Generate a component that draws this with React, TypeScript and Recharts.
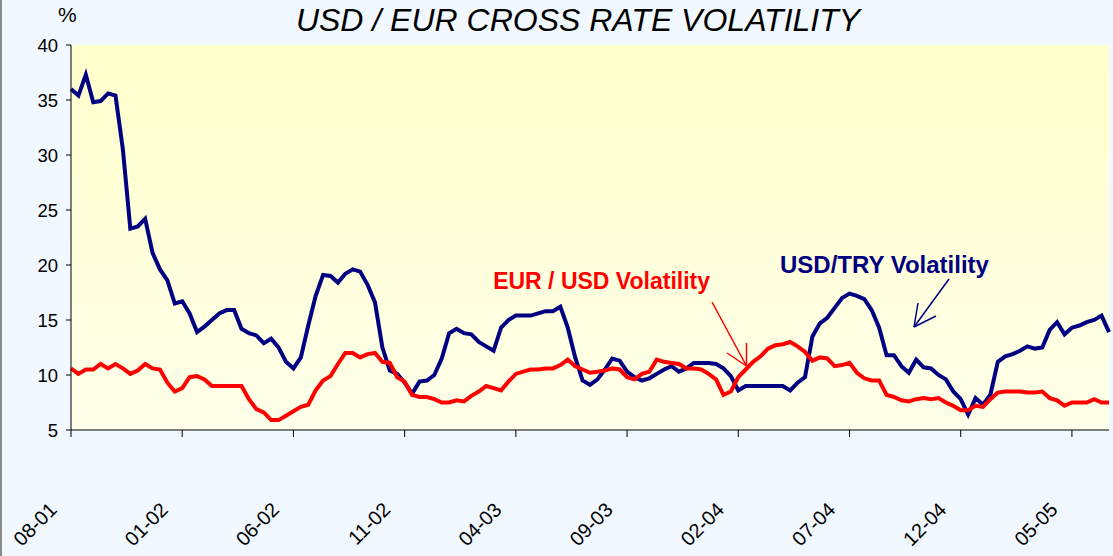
import React from "react"
import { LineChart, Line, XAxis, YAxis, CartesianGrid } from "recharts"

// month labels on the x axis, one every 15 samples (3 samples per month)
const tickLabels = ["08-01", "01-02", "06-02", "11-02", "04-03", "09-03", "02-04", "07-04", "12-04", "05-05"]
const yTicks = [5, 10, 15, 20, 25, 30, 35, 40]

// USD/TRY volatility, %
const usdTry = [
  36, 35.4, 37.3, 34.8, 34.9, 35.6, 35.4, 30.5, 23.3, 23.5,
  24.2, 21.1, 19.6, 18.6, 16.5, 16.7, 15.6, 13.9, 14.4, 15.0,
  15.6, 15.9, 15.9, 14.2, 13.8, 13.6, 12.9, 13.3, 12.5, 11.2,
  10.6, 11.6, 14.5, 17.2, 19.1, 19.0, 18.4, 19.2, 19.6, 19.4,
  18.2, 16.6, 12.5, 10.4, 10.1, 9.3, 8.3, 9.4, 9.5, 10.0,
  11.5, 13.8, 14.2, 13.8, 13.7, 13.0, 12.6, 12.2, 14.3, 15.0,
  15.4, 15.4, 15.4, 15.6, 15.8, 15.8, 16.2, 14.3, 11.6, 9.5,
  9.1, 9.6, 10.5, 11.5, 11.3, 10.3, 9.8, 9.5, 9.7, 10.1,
  10.5, 10.8, 10.3, 10.6, 11.1, 11.1, 11.1, 11.0, 10.6, 9.9,
  8.6, 9.0, 9.0, 9.0, 9.0, 9.0, 9.0, 8.6, 9.3, 9.8,
  13.5, 14.7, 15.2, 16.1, 17.0, 17.4, 17.2, 16.9, 15.9, 14.3,
  11.8, 11.8, 10.8, 10.2, 11.4, 10.7, 10.6, 10.0, 9.6, 8.5,
  7.8, 6.4, 7.9, 7.3, 8.2, 11.2, 11.7, 11.9, 12.2, 12.6,
  12.4, 12.5, 14.1, 14.8, 13.7, 14.3, 14.5, 14.8, 15.0, 15.4,
  13.9,
]

// EUR/USD volatility, %
const eurUsd = [
  10.6, 10.1, 10.5, 10.5, 11.0, 10.6, 11.0, 10.6, 10.1, 10.4,
  11.0, 10.6, 10.5, 9.3, 8.5, 8.8, 9.8, 9.9, 9.6, 9.0,
  9.0, 9.0, 9.0, 9.0, 7.8, 6.9, 6.6, 5.9, 5.9, 6.3,
  6.7, 7.1, 7.3, 8.6, 9.5, 9.9, 11.0, 12.0, 12.0, 11.6,
  11.9, 12.0, 11.2, 11.1, 9.8, 9.4, 8.2, 8.0, 8.0, 7.8,
  7.5, 7.5, 7.7, 7.6, 8.1, 8.5, 9.0, 8.8, 8.6, 9.4,
  10.1, 10.3, 10.5, 10.5, 10.6, 10.6, 10.9, 11.4, 10.8, 10.5,
  10.2, 10.3, 10.4, 10.6, 10.5, 9.8, 9.6, 10.1, 10.3, 11.4,
  11.2, 11.1, 11.0, 10.6, 10.6, 10.5, 10.1, 9.6, 8.2, 8.5,
  9.8, 10.5, 11.2, 11.7, 12.4, 12.7, 12.8, 13.0, 12.6, 12.1,
  11.3, 11.6, 11.5, 10.8, 10.9, 11.1, 10.2, 9.7, 9.5, 9.5,
  8.2, 8.0, 7.7, 7.6, 7.8, 7.9, 7.8, 7.9, 7.5, 7.2,
  6.8, 6.8, 7.2, 7.1, 7.8, 8.4, 8.5, 8.5, 8.5, 8.4,
  8.4, 8.5, 7.9, 7.7, 7.2, 7.5, 7.5, 7.5, 7.8, 7.5,
  7.5,
]

const data = usdTry.map((v, i) => ({ i, usdTry: v, eurUsd: eurUsd[i] }))

const narrow = "'Liberation Sans Narrow', 'Arial Narrow', sans-serif"
const arial = "'Liberation Sans', Arial, sans-serif"

function MonthTick(props: any) {
  const { x, y, payload } = props
  const ax = x - 13
  const ay = y + 72
  return (
    <text x={ax} y={ay} textAnchor="end" transform={`rotate(-45, ${ax}, ${ay})`}
      fontFamily={narrow} fontSize={20} fill="#000">
      {tickLabels[Math.round(payload.value / 15)]}
    </text>
  )
}

export default function App() {
  return (
    <div style={{ position: "relative", width: 1113, height: 556, background: "#F2F8FF", overflow: "hidden" }}>
      <style>{"body{margin:0}"}</style>
      <div style={{ position: "absolute", left: 0, top: 0, width: 1.5, height: 556, background: "#8a8a8a" }} />
      <LineChart width={1113} height={556} data={data} margin={{ top: 45, right: 4, bottom: 96, left: 21 }}>
        <defs>
          <linearGradient id="plotBg" x1="0" y1="0" x2="0" y2="1">
            <stop offset="0%" stopColor="#FFFFCC" />
            <stop offset="100%" stopColor="#FFFFEA" />
          </linearGradient>
        </defs>
        <CartesianGrid horizontal={false} vertical={false} fill="url(#plotBg)" />
        <XAxis type="number" dataKey="i" domain={[0, usdTry.length - 1]}
          ticks={tickLabels.map((_, k) => k * 15)} tick={<MonthTick />}
          axisLine={{ stroke: "#000" }} tickLine={{ stroke: "#000" }} tickSize={7} interval={0} />
        <YAxis domain={[5, 40]} ticks={yTicks} width={50} tickSize={5} tickMargin={8}
          axisLine={{ stroke: "#000" }} tickLine={{ stroke: "#000" }}
          tick={{ fontFamily: narrow, fontSize: 18.5, fill: "#000" }} />
        <Line dataKey="usdTry" stroke="#000080" strokeWidth={4} dot={false} isAnimationActive={false} />
        <Line dataKey="eurUsd" stroke="#FF0000" strokeWidth={4} dot={false} isAnimationActive={false} />
      </LineChart>
      <svg width={1113} height={556} style={{ position: "absolute", left: 0, top: 0, pointerEvents: "none" }}>
        <text x={578} y={31} textAnchor="middle" fontFamily={arial} fontStyle="italic" fontSize={32} fill="#000">
          USD / EUR CROSS RATE VOLATILITY
        </text>
        <text x={58} y={22} fontFamily={arial} fontSize={21} fill="#000">%</text>
        <text x={710} y={289} textAnchor="end" fontFamily={arial} fontWeight="bold" fontSize={23} fill="#FF0000">
          EUR / USD Volatility
        </text>
        <text x={780} y={273} fontFamily={arial} fontWeight="bold" fontSize={24} fill="#000080">
          USD/TRY Volatility
        </text>
        <g stroke="#FF0000" strokeWidth={1.5} fill="none">
          <line x1={712} y1={302} x2={746.5} y2={366} />
          <line x1={727} y1={353} x2={746.5} y2={366} />
          <line x1={746.5} y1={343} x2={746.5} y2={366} />
        </g>
        <g stroke="#000080" strokeWidth={1.5} fill="none">
          <line x1={949} y1={279} x2={914} y2={327} />
          <line x1={918} y1={303} x2={914} y2={327} />
          <line x1={936} y1={316} x2={914} y2={327} />
        </g>
      </svg>
    </div>
  )
}
